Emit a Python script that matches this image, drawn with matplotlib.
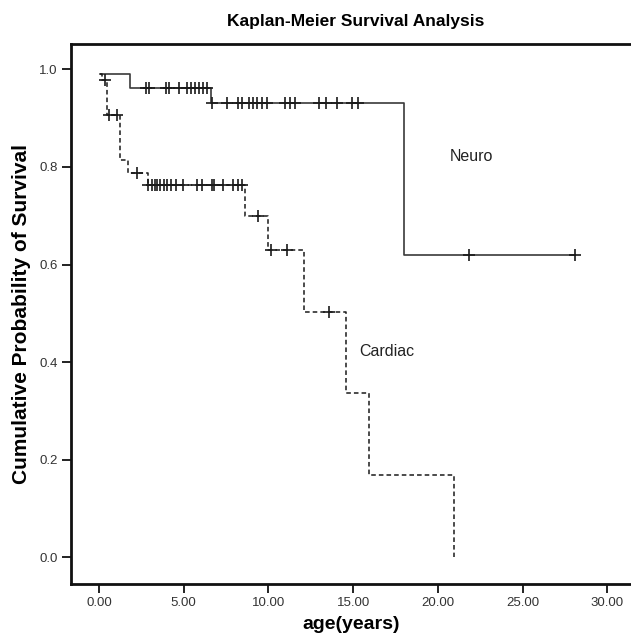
import numpy as np
import matplotlib
matplotlib.use('Agg')
import matplotlib.pyplot as plt

plt.rcParams['font.family'] = ['Liberation Sans', 'DejaVu Sans']

# ---------------------------------------------------------------------------
# Data (age in years, cumulative survival)
# ---------------------------------------------------------------------------
neuro_t = [0.06, 1.83, 6.59, 18.0, 28.1]
neuro_s = [0.99, 0.961, 0.931, 0.62, 0.62]
neuro_cens = [2.77, 2.97, 3.95, 4.15, 4.74, 5.18, 5.41, 5.66, 5.92, 6.15, 6.35,
              6.65, 7.53, 8.22, 8.42, 8.87, 9.07, 9.30, 9.60, 9.89, 10.97,
              11.27, 11.56, 13.0, 13.4, 14.02, 14.91, 15.30, 21.85, 28.1]

cardiac_t = [0.06, 0.15, 0.45, 1.24, 1.73, 2.87, 8.6, 9.99, 12.1, 14.6, 15.93, 20.94]
cardiac_s = [0.99, 0.978, 0.907, 0.814, 0.788, 0.763, 0.70, 0.63, 0.503, 0.336, 0.168, 0.0]
cardiac_cens = [0.35, 0.62, 1.08, 2.26, 2.91, 3.11, 3.30, 3.44, 3.60, 3.83, 4.03,
                4.23, 4.54, 4.93, 5.80, 6.06, 6.65, 6.78, 7.29, 7.92, 8.2, 8.45,
                9.4, 10.13, 11.11, 13.57]

x_ticks = [0, 5, 10, 15, 20, 25, 30]
y_ticks = [0.0, 0.2, 0.4, 0.6, 0.8, 1.0]


def level_at(times, surv, pts):
    # survival level of the step curve at each censoring time
    idx = np.searchsorted(times, pts, side='right') - 1
    return np.asarray(surv)[idx]


fig = plt.figure(figsize=(6.31, 6.42), dpi=100)
ax = fig.add_axes([0.112, 0.0903, 0.888, 0.8419])

ax.step(neuro_t, neuro_s, where='post', color='#3a3a3a', lw=1.2)
ax.step(cardiac_t, cardiac_s, where='post', color='#1a1a1a', lw=1.1,
        linestyle=(0, (3, 2)))

ax.plot(neuro_cens, level_at(neuro_t, neuro_s, neuro_cens), '+',
        color='#1a1a1a', ms=8, mew=1.2)
ax.plot(cardiac_cens, level_at(cardiac_t, cardiac_s, cardiac_cens), '+',
        color='#1a1a1a', ms=8, mew=1.2)

ax.text(22.0, 0.821, 'Neuro', ha='center', va='center', fontsize=11.5, color='#222222')
ax.text(16.96, 0.421, 'Cardiac', ha='center', va='center', fontsize=11.5, color='#222222')

ax.set_xlim(-1.67, 31.39)
ax.set_ylim(-0.055, 1.053)
ax.set_xticks(x_ticks)
ax.set_xticklabels([f'{v:.2f}' for v in x_ticks])
ax.set_yticks(y_ticks)
ax.set_yticklabels([f'{v:.1f}' for v in y_ticks])
ax.tick_params(direction='out', length=6.5, width=1.4, labelsize=9.5,
               labelcolor='#333333', color='#222222', pad=3)

for side in ['left', 'bottom', 'top']:
    ax.spines[side].set_linewidth(2)
    ax.spines[side].set_color('#111111')
ax.spines['right'].set_visible(False)

ax.set_xlabel('age(years)', fontsize=14, fontweight='bold', labelpad=5)
ax.set_ylabel('Cumulative Probability of Survival', fontsize=15,
              fontweight='bold')
ax.yaxis.set_label_coords(-0.071, 0.5)
fig.text(0.563, 0.967, 'Kaplan-Meier Survival Analysis', ha='center', va='center',
         fontsize=12.5, fontweight='bold')

fig.savefig('out.png', dpi=100, facecolor='white')
